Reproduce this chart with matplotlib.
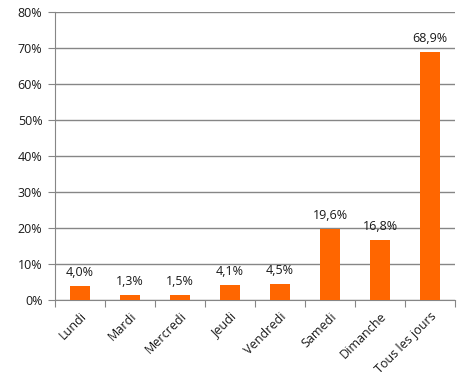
import matplotlib
matplotlib.use("Agg")
import matplotlib.pyplot as plt
from matplotlib.ticker import FuncFormatter, MultipleLocator

categories = ["Lundi", "Mardi", "Mercredi", "Jeudi", "Vendredi", "Samedi", "Dimanche", "Tous les jours"]
values = [4.0, 1.3, 1.5, 4.1, 4.5, 19.6, 16.8, 68.9]

plt.rcParams['font.family'] = ['Open Sans', 'DejaVu Sans']

fig = plt.figure(figsize=(4.62, 3.81), dpi=100)
ax = fig.add_axes([55/462, 1-300/381, 400/462, 288/381])

x = list(range(len(categories)))
bars = ax.bar(x, values, width=0.4, color="#FF6600", zorder=3)
for xi, v in zip(x, values):
    ax.annotate(f"{v:.1f}%".replace(".", ","), (xi, v), xytext=(0, 5), textcoords="offset points",
                ha="center", va="bottom", fontsize=9, color="#1a1a1a")

ax.set_xlim(-0.5, len(categories)-0.5)
ax.set_ylim(0, 80)
ax.yaxis.set_major_locator(MultipleLocator(10))
ax.yaxis.set_major_formatter(FuncFormatter(lambda v, p: f"{int(v)}%"))
ax.grid(axis="y", color="#868686", linewidth=1, zorder=0)
for s in ["top", "right"]:
    ax.spines[s].set_visible(False)
for s in ["left", "bottom"]:
    ax.spines[s].set_color("#868686")
ax.set_xticks([i - 0.5 for i in range(len(categories)+1)], minor=False)
ax.set_xticklabels([])
ax.set_xticks(x, minor=True)
ax.set_xticklabels(categories, minor=True, rotation=45, ha="right", rotation_mode="anchor", fontsize=9)
ax.tick_params(axis="x", which="minor", length=0, pad=7)
ax.tick_params(axis="x", which="major", length=5, color="#868686")
ax.tick_params(axis="y", length=5, color="#868686", labelsize=9, pad=4, labelcolor="#1a1a1a")
ax.tick_params(axis="x", which="minor", labelcolor="#1a1a1a")

fig.savefig("out.png", dpi=100)
